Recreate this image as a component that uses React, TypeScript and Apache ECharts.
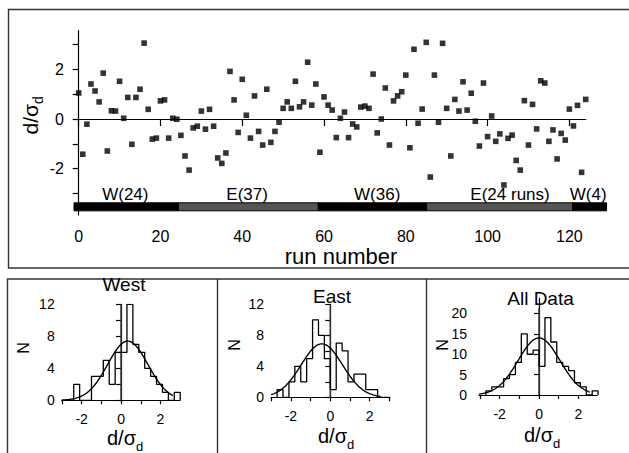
import React, { useEffect, useRef } from "react";
import * as echarts from "echarts";

// ---------- DATA ----------
const dOverSigma = [
  1.05, -1.42, -0.21, 1.41, 1.13, 0.69, 1.85, -1.29, 0.33, 0.32,
  1.52, 0.03, 0.87, -1.02, 0.87, 1.2, 3.06, 0.39, -0.81, -0.77,
  0.73, 0.77, -0.77, 0.03, -0.01, -0.66, -1.49, -2.06, -0.36, -0.29,
  0.32, -0.41, 0.39, -0.29, -1.57, -1.79, -1.37, 1.92, 0.77, -0.54,
  1.6, 0.15, -0.77, 0.93, -0.5, -1.05, 1.2, -0.94, -0.5, -0.13,
  0.43, 0.69, 0.43, 1.52, 0.49, 0.69, 2.29, 0.56, 1.41, -1.34,
  0.89, 0.56, 0.36, -0.75, 0.03, 0.28, -0.75, -0.2, -0.32, 0.48,
  0.52, 0.43, 1.81, -0.56, 0.0, 1.25, -1.05, 0.73, 0.93, 1.1,
  1.77, -1.16, 2.81, -0.17, 0.4, 3.09, -2.34, 1.77, -0.13, 3.05,
  0.43, -1.49, 0.79, 0.32, 1.5, 0.36, 1.04, -0.09, -1.09, 1.45,
  -0.71, 0.12, -0.9, -0.6, -2.66, -0.78, -0.65, -1.67, -2.06, 0.74,
  -1.05, 0.59, -0.4, 1.54, 1.45, -0.9, -0.44, -1.61, -0.58, -0.85,
  0.4, -0.28, 0.55, -2.15, 0.79,
];
const runNumbers = dOverSigma.map((_, i) => i);

const segmentNames = ["W(24)", "E(37)", "W(36)", "E(24 runs)", "W(4)"];
const segmentSides = ["W", "E", "W", "E", "W"];
const segmentEdges = [-1.15, 24.4, 58.6, 85.1, 120.8, 129.1];
const segmentLabelRuns = [11.4, 41.2, 73.0, 105.5, 124.6];

const topXTicks = [0, 20, 40, 60, 80, 100, 120];
const topYTicks = [-3, -2, -1, 0, 1, 2, 3];
const topYLabels = [-2, 0, 2];

const histBinStarts = [-2.7, -2.4, -2.1, -1.8, -1.5, -1.2, -0.9, -0.6, -0.3, 0, 0.3, 0.6, 0.9, 1.2, 1.5, 1.8, 2.1, 2.4, 2.7];
const histBinWidth = 0.3;
const westCounts = [0, 2, 0, 0, 3, 3, 5, 2, 6, 6, 12, 7, 6, 4, 3, 2, 1, 0, 1];
const eastCounts = [1, 0, 2, 4, 2, 5, 10, 8, 5, 1, 7, 6, 2, 3, 3, 1, 1, 0, 0];
const allCounts = westCounts.map((w, i) => w + eastCounts[i]);

const panelTitles = ["West", "East", "All Data"];
const fitMeans = [0.34, -0.43, 0.0];
const fitSigmas = [1.02, 1.05, 1.06];
const fitAmps = [7.4, 6.9, 14.0];
const fitEnds = [2.65, 2.55, 2.6];
const zeroLineTops = [12, 11.7, 21.3];

const histXTicks = [-3, -2, -1, 0, 1, 2, 3];
const histXLabels = [-2, 0, 2];
const histYTicks = [[0, 2, 4, 6, 8, 10, 12], [0, 2, 4, 6, 8, 10, 12], [0, 5, 10, 15, 20]];
const histYLabels = [[0, 4, 8, 12], [0, 4, 8, 12], [0, 5, 10, 15, 20]];

// ---------- LAYOUT ----------
const FONT = "'Liberation Sans', Arial, Helvetica, sans-serif";
const SEG_Y = -3.54;

const histGrids = [
  { left: 61.7, top: 304.3, width: 118.3, height: 96, xMin: -3.01, xMax: 2.99, yMax: 12 },
  { left: 271, top: 304.3, width: 119, height: 93, xMin: -3.01, xMax: 3.03, yMax: 12 },
  { left: 479, top: 298, width: 118.3, height: 97, xMin: -3.05, xMax: 2.96, yMax: 23.8 },
];
const histTitlePos = [[124, 284.5], [332, 296.7], [540.5, 298.4]];
const histNamePos = [[125, 438], [336, 436], [542, 435]];
const histNPos = [[23, 348], [234, 345], [442, 345]];

function stepOutline(counts: number[]) {
  const pts: number[][] = [[histBinStarts[0], 0]];
  counts.forEach((c, i) => {
    const s = histBinStarts[i];
    pts.push([s, c], [s + histBinWidth, c]);
  });
  pts.push([histBinStarts[histBinStarts.length - 1] + histBinWidth, 0]);
  return pts;
}

function gaussCurve(mu: number, sigma: number, amp: number, x0: number, x1: number) {
  const pts: number[][] = [];
  for (let x = x0; x <= x1 + 1e-9; x += 0.04) {
    pts.push([x, amp * Math.exp(-((x - mu) * (x - mu)) / (2 * sigma * sigma))]);
  }
  return pts;
}

function dSigmaGroup(x: number, y: number, size: number, rotation: number) {
  const subSize = Math.round(size * 0.66);
  return {
    type: "group",
    x,
    y,
    rotation,
    children: [
      {
        type: "text",
        x: 11,
        y: 0,
        style: { text: "d/σ", fontSize: size, fontFamily: FONT, fill: "#000", align: "right", verticalAlign: "middle" },
      },
      {
        type: "text",
        x: 11,
        y: 8,
        style: { text: "d", fontSize: subSize, fontFamily: FONT, fill: "#000", align: "left", verticalAlign: "middle" },
      },
    ],
  };
}

export default function App() {
  const ref = useRef<HTMLDivElement>(null);
  useEffect(() => {
    if (!ref.current) return;
    const chart = echarts.init(ref.current, undefined, { renderer: "svg" });

    const axisLineStyle = { color: "#000", width: 1.2 };

    const grids: any[] = [{ left: 74, top: 30.7, width: 511.7, height: 184.3 }];
    const xAxes: any[] = [
      {
        type: "value",
        gridIndex: 0,
        min: -1.15,
        max: 124,
        axisLine: { show: true, lineStyle: axisLineStyle },
        axisTick: { show: true, length: 7, customValues: topXTicks, lineStyle: axisLineStyle },
        axisLabel: { customValues: topXTicks, fontSize: 16, margin: 13, color: "#000", fontFamily: FONT },
        splitLine: { show: false },
      },
    ];
    const yAxes: any[] = [
      {
        type: "value",
        gridIndex: 0,
        min: -3.87,
        max: 3.56,
        axisLine: { show: true, lineStyle: axisLineStyle },
        axisTick: { show: true, length: 6, customValues: topYTicks, lineStyle: axisLineStyle },
        axisLabel: { customValues: topYLabels, fontSize: 16, margin: 10, color: "#000", fontFamily: FONT },
        splitLine: { show: false },
      },
    ];

    const series: any[] = [
      {
        type: "scatter",
        xAxisIndex: 0,
        yAxisIndex: 0,
        data: dOverSigma.map((v, i) => [runNumbers[i], v]),
        symbol: "rect",
        symbolSize: 5.6,
        itemStyle: { color: "#000" },
        z: 4,
        markLine: {
          silent: true,
          symbol: ["none", "none"],
          label: { show: false },
          lineStyle: { color: "#000", width: 1, type: "solid" },
          data: [{ yAxis: 0 }],
        },
      },
      {
        type: "custom",
        xAxisIndex: 0,
        yAxisIndex: 0,
        clip: false,
        data: segmentNames.map((_, i) => [segmentEdges[i], segmentEdges[i + 1], i]),
        renderItem: (params: any, api: any) => {
          const idx = api.value(2);
          const s = api.coord([api.value(0), SEG_Y]);
          const e = api.coord([api.value(1), SEG_Y]);
          const lbl = api.coord([segmentLabelRuns[idx], SEG_Y]);
          const isW = segmentSides[idx] === "W";
          return {
            type: "group",
            children: [
              {
                type: "rect",
                shape: { x: s[0], y: s[1] - 4, width: e[0] - s[0], height: 8 },
                style: { fill: isW ? "#000" : "#555", stroke: "#000", lineWidth: 1 },
              },
              {
                type: "text",
                style: {
                  text: segmentNames[idx],
                  x: lbl[0],
                  y: s[1] - 12.6,
                  align: "center",
                  verticalAlign: "middle",
                  fontSize: 17,
                  fontFamily: FONT,
                  fill: "#000",
                },
              },
            ],
          };
        },
      },
    ];

    const histData = [westCounts, eastCounts, allCounts];
    histGrids.forEach((g, k) => {
      const gi = k + 1;
      grids.push({ left: g.left, top: g.top, width: g.width, height: g.height });
      xAxes.push({
        type: "value",
        gridIndex: gi,
        min: g.xMin,
        max: g.xMax,
        axisLine: { show: true, lineStyle: axisLineStyle },
        axisTick: {
          show: true,
          length: 4,
          customValues: histXTicks.filter((t) => t >= g.xMin && t <= g.xMax),
          lineStyle: axisLineStyle,
        },
        axisLabel: { customValues: histXLabels, fontSize: 14, margin: 12, color: "#000", fontFamily: FONT },
        splitLine: { show: false },
      });
      yAxes.push({
        type: "value",
        gridIndex: gi,
        min: 0,
        max: g.yMax,
        axisLine: { show: true, lineStyle: axisLineStyle },
        axisTick: { show: true, length: 5, customValues: histYTicks[k], lineStyle: axisLineStyle },
        axisLabel: {
          customValues: histYLabels[k],
          fontSize: 14,
          margin: k === 2 ? 12 : 7,
          color: "#000",
          fontFamily: FONT,
        },
        splitLine: { show: false },
      });
      series.push({
        type: "line",
        xAxisIndex: gi,
        yAxisIndex: gi,
        data: stepOutline(histData[k]),
        showSymbol: false,
        symbol: "none",
        lineStyle: { color: "#000", width: 1.3 },
        z: 3,
      });
      series.push({
        type: "line",
        xAxisIndex: gi,
        yAxisIndex: gi,
        data: gaussCurve(fitMeans[k], fitSigmas[k], fitAmps[k], g.xMin, fitEnds[k]),
        showSymbol: false,
        symbol: "none",
        smooth: false,
        lineStyle: { color: "#000", width: 1.4 },
        z: 4,
      });
      series.push({
        type: "line",
        xAxisIndex: gi,
        yAxisIndex: gi,
        data: [[0, 0], [0, zeroLineTops[k]]],
        showSymbol: false,
        symbol: "none",
        lineStyle: { color: "#333", width: 1.5 },
        z: 2,
      });
    });

    const graphics: any[] = [
      {
        type: "rect",
        shape: { x: 8.5, y: 9.5, width: 700, height: 258.5 },
        style: { fill: "none", stroke: "#333", lineWidth: 1.4 },
        silent: true,
      },
      {
        type: "rect",
        shape: { x: 7.5, y: 279, width: 700, height: 300 },
        style: { fill: "none", stroke: "#333", lineWidth: 1.4 },
        silent: true,
      },
      { type: "line", shape: { x1: 217.5, y1: 279, x2: 217.5, y2: 460 }, style: { stroke: "#333", lineWidth: 1.4 } },
      { type: "line", shape: { x1: 426.5, y1: 279, x2: 426.5, y2: 460 }, style: { stroke: "#333", lineWidth: 1.4 } },
      {
        type: "text",
        x: 341,
        y: 256,
        style: { text: "run number", fontSize: 22, fontFamily: FONT, fill: "#000", align: "center", verticalAlign: "middle" },
      },
      dSigmaGroup(30, 115, 21, Math.PI / 2),
    ];
    panelTitles.forEach((t, k) => {
      graphics.push({
        type: "text",
        x: histTitlePos[k][0],
        y: histTitlePos[k][1],
        style: { text: t, fontSize: 19, fontFamily: FONT, fill: "#000", align: "center", verticalAlign: "middle" },
      });
      graphics.push(dSigmaGroup(histNamePos[k][0], histNamePos[k][1], 20, 0));
      graphics.push({
        type: "text",
        x: histNPos[k][0],
        y: histNPos[k][1],
        rotation: Math.PI / 2,
        style: { text: "N", fontSize: 16, fontFamily: FONT, fill: "#000", align: "center", verticalAlign: "middle" },
      });
    });

    chart.setOption({
      animation: false,
      backgroundColor: "#fff",
      textStyle: { fontFamily: FONT },
      grid: grids,
      xAxis: xAxes,
      yAxis: yAxes,
      series,
      graphic: { elements: graphics },
    });
    return () => chart.dispose();
  }, []);

  return <div ref={ref} style={{ position: "absolute", left: 0, top: 0, width: 629, height: 453 }} />;
}
